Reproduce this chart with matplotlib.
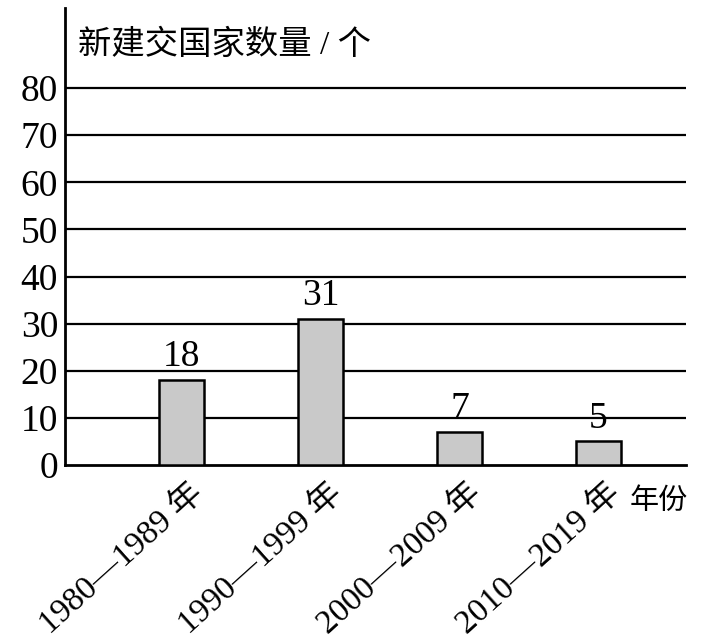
import matplotlib
matplotlib.use("Agg")
import matplotlib.pyplot as plt

# 数据
periods = ["1980—1989 年", "1990—1999 年", "2000—2009 年", "2010—2019 年"]
counts = [18, 31, 7, 5]
yticks = [0, 10, 20, 30, 40, 50, 60, 70, 80]

plt.rcParams['font.family'] = ['Liberation Serif', 'Noto Sans CJK SC']

fig = plt.figure(figsize=(7.13, 6.41), dpi=100)
ax = fig.add_axes([65 / 713, 1 - 465 / 641, (686 - 65) / 713, (465 - 8) / 641])

x = list(range(len(periods)))
ax.bar(x, counts, width=0.32, color="#c9c9c9", edgecolor="black", linewidth=1.8, zorder=3)
for xi, c in zip(x, counts):
    ax.annotate(str(c), xy=(xi, c), xytext=(0, 10), textcoords="offset points",
                ha="center", va="baseline", fontsize=27, zorder=4)

for t in yticks[1:]:
    ax.axhline(t, color="black", linewidth=1.6, zorder=1)

ax.set_xlim(-0.84, 3.63)
ax.set_ylim(0, 97)
ax.set_yticks(yticks)
ax.set_yticklabels([str(t) for t in yticks], fontsize=27)
ax.set_xticks(x)
ax.set_xticklabels([])
ax.tick_params(axis="both", length=0, pad=5)

for s in ["top", "right"]:
    ax.spines[s].set_visible(False)
ax.spines["left"].set_linewidth(2)
ax.spines["bottom"].set_linewidth(2)

# 旋转的横轴标签
for xi, lab in zip(x, periods):
    ax.annotate(lab, xy=(xi, 0), xycoords="data", xytext=(5, -9), textcoords="offset points",
                rotation=42, rotation_mode="anchor", ha="right", va="top", fontsize=24)

ax.text(78 / 713, 1 - 45 / 641, "新建交国家数量 / 个", transform=fig.transFigure,
        fontsize=24, ha="left", va="center")
ax.text(630 / 713, 1 - 502 / 641, "年份", transform=fig.transFigure,
        fontsize=21, ha="left", va="center")

fig.savefig("out.png", dpi=100)
